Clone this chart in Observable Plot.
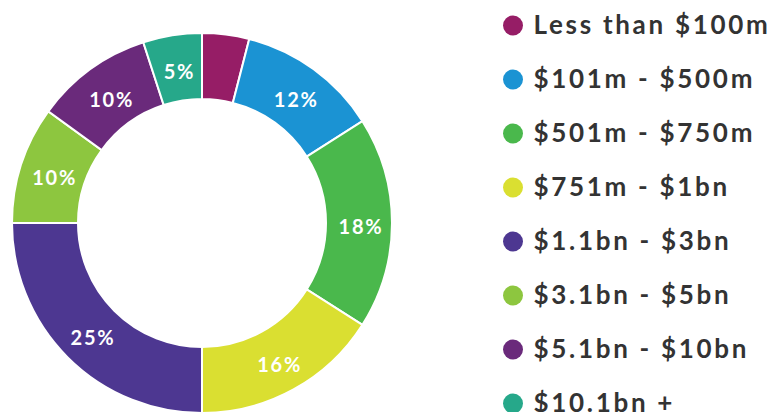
<!DOCTYPE html>
<html>
<head>
<meta charset="utf-8">
<script src="https://cdn.jsdelivr.net/npm/d3@7"></script>
<script src="https://cdn.jsdelivr.net/npm/@observablehq/plot@0.6"></script>
<style>
  html, body { margin: 0; padding: 0; background: #fff; }
  #chart svg { display: block; }
  #chart g[aria-label="text"] text { letter-spacing: 2.7px; }
</style>
</head>
<body>
<div id="chart"></div>
<script>
const categories = ["Less than $100m", "$101m - $500m", "$501m - $750m", "$751m - $1bn", "$1.1bn - $3bn", "$3.1bn - $5bn", "$5.1bn - $10bn", "$10.1bn +"];
const shares = [4, 12, 18, 16, 25, 10, 10, 5];
const sliceLabels = ["", "12%", "18%", "16%", "25%", "10%", "10%", "5%"];
const colors = ["#961d66", "#1b93d3", "#4ab84c", "#dadf31", "#4d3791", "#8dc63f", "#6a2a7b", "#26a88a"];

function donut(index, scales) {
  const color = scales.color || d3.scaleOrdinal(categories, colors);
  const pie = d3.pie().sort(null).value((d, i) => shares[i])(categories);
  const inner = 124, outer = 190;
  const arc = d3.arc().innerRadius(inner).outerRadius(outer);
  const g = d3.create("svg:g").attr("transform", "translate(202,223)");
  g.selectAll("path").data(pie).join("path")
    .attr("d", arc)
    .attr("fill", d => color(d.data))
    .attr("stroke", "#fff")
    .attr("stroke-width", 2);
  g.selectAll("text").data(pie).join("text")
    .attr("transform", d => `translate(${arc.centroid(d)})`)
    .attr("text-anchor", "middle")
    .attr("dx", 2)
    .attr("dy", 11)
    .attr("fill", "#fff")
    .attr("font-family", "Lato, sans-serif")
    .attr("font-weight", 700)
    .attr("font-size", 20)
    .attr("letter-spacing", "1.8px")
    .text((d, i) => sliceLabels[i]);
  return g.node();
}

const chart = Plot.plot({
  width: 772,
  height: 412,
  margin: 0,
  x: {type: "linear", domain: [0, 772], range: [0, 772], axis: null},
  y: {type: "point", domain: categories, range: [23.5, 404], padding: 0, axis: null},
  color: {domain: categories, range: colors},
  style: {fontFamily: "Lato, sans-serif", background: "#fff"},
  marks: [
    donut,
    Plot.dot(categories, {x: () => 512.5, y: d => d, fill: d => d, r: 10}),
    Plot.text(categories, {x: () => 533, y: d => d, text: d => d, textAnchor: "start", fontSize: 26, fontWeight: "bold", fill: "#333"})
  ]
});
document.getElementById("chart").append(chart);
</script>
</body>
</html>
